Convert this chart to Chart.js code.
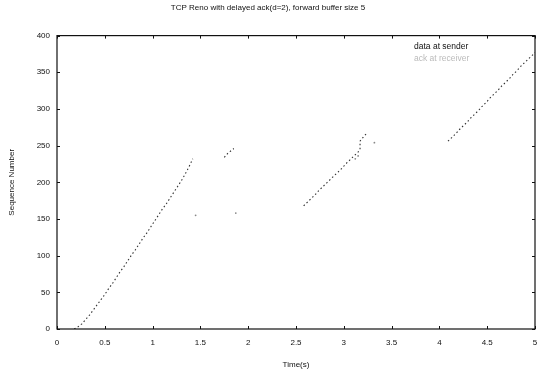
<!DOCTYPE html>
<html>
<head>
<meta charset="utf-8">
<script src="https://cdn.jsdelivr.net/npm/chart.js@4"></script>
<style>
html,body{margin:0;padding:0;background:#fff;}
#wrap{width:539px;height:370px;position:relative;}
</style>
</head>
<body>
<div id="wrap"><canvas id="c"></canvas></div>
<script>
// ---- data ----
const titleText = "TCP Reno with delayed ack(d=2), forward buffer size 5";
const xTitle = "Time(s)";
const yTitle = "Sequence Number";
const seriesNames = ["data at sender", "ack at receiver"];
const xTickValues = [0, 0.5, 1, 1.5, 2, 2.5, 3, 3.5, 4, 4.5, 5];
const yTickValues = [0, 50, 100, 150, 200, 250, 300, 350, 400];

// data at sender: segments (time s, sequence number); null breaks the line
const senderTime = [
  0.18,0.22,0.26,0.30,0.34,0.38,0.42,0.46,0.50,0.54,0.58,0.62,0.66,0.70,0.74,0.78,0.82,0.86,0.90,0.94,0.98,1.02,1.06,1.10,1.14,1.18,1.22,1.26,1.30,1.34,1.38,1.42,
  1.60,
  1.75,1.77,1.79,1.81,1.83,1.85,
  2.20,
  2.58,2.62,2.66,2.70,2.74,2.78,2.82,2.86,2.90,2.94,2.98,3.02,3.06,3.10,3.14,3.17,3.17,3.17,3.17,3.18,3.20,3.22,3.24,
  3.60,
  4.09,4.13,4.17,4.21,4.25,4.29,4.33,4.37,4.41,4.45,4.49,4.53,4.57,4.61,4.65,4.69,4.73,4.77,4.81,4.85,4.89,4.93,4.97,5.00
];
const senderSeq = [
  0,3,7,13,19,26,33,40,47,55,62,70,78,85,93,101,108,116,124,131,139,147,155,163,170,178,186,194,202,211,221,232,
  null,
  234,237,240,242,244,246,
  null,
  168,173,178,183,189,194,199,204,209,214,219,225,230,235,240,244,248,252,256,258,261,264,267,
  null,
  256,261,266,272,277,282,288,293,298,304,309,315,320,325,331,336,341,347,352,358,363,368,373,377
];

// second series: isolated grey points
const recvTime = [1.45, 1.87, 3.12, 3.15, 3.32];
const recvSeq  = [155, 158, 232, 236, 254];

const senderData = senderTime.map((t, i) => ({x: t, y: senderSeq[i]}));
const recvData = recvTime.map((t, i) => ({x: t, y: recvSeq[i]}));

const FONT = "'Liberation Sans', Arial, sans-serif";

const framePlugin = {
  id: 'frame',
  afterDatasetsDraw(chart) {
    const {ctx, chartArea: a, scales} = chart;
    ctx.save();
    ctx.strokeStyle = '#111';
    ctx.lineWidth = 1.2;
    ctx.strokeRect(a.left, a.top, a.right - a.left, a.bottom - a.top);
    ctx.lineWidth = 1;
    const tl = 3;
    xTickValues.forEach(v => {
      const px = Math.round(scales.x.getPixelForValue(v)) + 0.5;
      ctx.beginPath();
      ctx.moveTo(px, a.bottom); ctx.lineTo(px, a.bottom - tl);
      ctx.moveTo(px, a.top); ctx.lineTo(px, a.top + tl);
      ctx.stroke();
    });
    yTickValues.forEach(v => {
      const py = Math.round(scales.y.getPixelForValue(v)) + 0.5;
      ctx.beginPath();
      ctx.moveTo(a.left, py); ctx.lineTo(a.left + tl, py);
      ctx.moveTo(a.right, py); ctx.lineTo(a.right - tl, py);
      ctx.stroke();
    });
    // legend text inside the plot, top right
    ctx.font = "8.5px " + FONT;
    ctx.textBaseline = 'middle';
    ctx.textAlign = 'left';
    ctx.fillStyle = '#111';
    ctx.fillText(seriesNames[0], a.right - 121, a.top + 11);
    ctx.fillStyle = '#bbb';
    ctx.fillText(seriesNames[1], a.right - 121, a.top + 23);
    ctx.restore();
  }
};

new Chart(document.getElementById('c'), {
  type: 'scatter',
  data: {
    datasets: [
      {
        label: seriesNames[0],
        data: senderData,
        showLine: true,
        spanGaps: false,
        borderColor: '#333',
        borderWidth: 1.1,
        borderDash: [1.5, 2.5],
        pointRadius: 0,
        pointHoverRadius: 0
      },
      {
        label: seriesNames[1],
        data: recvData,
        showLine: false,
        pointRadius: 0.9,
        pointBackgroundColor: '#888',
        pointBorderWidth: 0
      }
    ]
  },
  options: {
    responsive: true,
    maintainAspectRatio: false,
    animation: false,
    layout: {padding: {left: 0, right: 3, top: 0, bottom: 0}},
    plugins: {
      legend: {display: false},
      tooltip: {enabled: false},
      title: {
        display: true,
        text: titleText,
        color: '#111',
        font: {family: FONT, size: 8, weight: 'normal'},
        padding: {top: 3, bottom: 23}
      }
    },
    scales: {
      x: {
        type: 'linear',
        min: 0, max: 5,
        afterFit(s) { s.height = 41; s.paddingLeft = 0; s.paddingRight = 0; },
        afterBuildTicks(s) { s.ticks = xTickValues.map(v => ({value: v})); },
        grid: {display: false, drawTicks: false},
        border: {display: false},
        ticks: {color: '#111', font: {family: FONT, size: 8}, padding: 9, maxRotation: 0,
                callback: v => String(v)},
        title: {display: true, text: xTitle, color: '#111', font: {family: FONT, size: 8},
                padding: {top: 8, bottom: 0}}
      },
      y: {
        type: 'linear',
        min: 0, max: 400,
        afterFit(s) { s.width = 57; },
        afterBuildTicks(s) { s.ticks = yTickValues.map(v => ({value: v})); },
        grid: {display: false, drawTicks: false},
        border: {display: false},
        ticks: {color: '#111', font: {family: FONT, size: 8}, padding: 7},
        title: {display: true, text: yTitle, color: '#111', font: {family: FONT, size: 8},
                padding: {top: 7, bottom: 0}}
      }
    }
  },
  plugins: [framePlugin]
});
</script>
</body>
</html>
